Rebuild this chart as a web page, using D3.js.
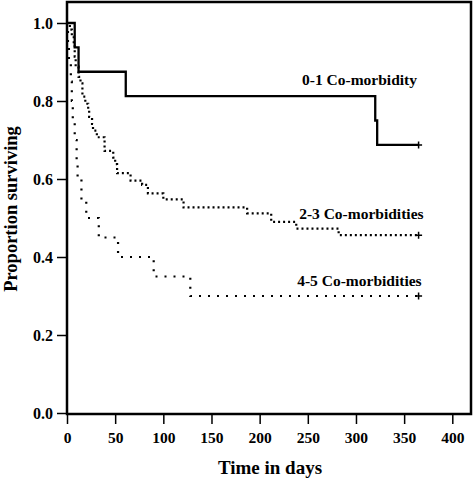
<!DOCTYPE html>
<html>
<head>
<meta charset="utf-8">
<script src="https://cdn.jsdelivr.net/npm/d3@7"></script>
<style>
  html, body { margin: 0; padding: 0; background: #fff; }
  svg { display: block; }
  text { font-family: "Liberation Serif", "Times New Roman", serif; font-weight: bold; fill: #000; }
</style>
</head>
<body>
<div id="chart"></div>
<script>
// ---- data ----
const xTicks = [0, 50, 100, 150, 200, 250, 300, 350, 400];
const yTicks = [0.0, 0.2, 0.4, 0.6, 0.8, 1.0];

const groupNames = ["0-1 Co-morbidity", "2-3 Co-morbidities", "4-5 Co-morbidities"];

const times01 = [0, 8, 12, 61, 320, 322, 365];
const surv01  = [1.0, 0.9375, 0.875, 0.8125, 0.75, 0.6875, 0.6875];

const times23 = [0, 3, 5, 7, 8, 9, 12, 14, 16, 19, 22, 23, 26, 27, 31, 39, 48, 50, 52, 66, 78, 84, 100, 121, 187, 212, 238, 282, 365];
const surv23  = [1.0, 0.983, 0.966, 0.948, 0.914, 0.888, 0.862, 0.845, 0.811, 0.793, 0.776, 0.759, 0.741, 0.724, 0.707, 0.672, 0.655, 0.638, 0.615, 0.596, 0.585, 0.563, 0.548, 0.527, 0.512, 0.490, 0.473, 0.456, 0.456];

const times45 = [0, 1, 2, 4, 5, 6, 8, 10, 11, 15, 20, 33, 53, 90, 128, 365];
const surv45  = [1.0, 0.95, 0.90, 0.85, 0.80, 0.75, 0.70, 0.65, 0.60, 0.55, 0.50, 0.45, 0.40, 0.35, 0.30, 0.30];

// label anchor values (day, survival) for group names
const labelDays = [244, 241, 239];
const labelSurv = [0.84, 0.497, 0.326];

// ---- drawing ----
const W = 474, H = 479;
const svg = d3.select("#chart").append("svg").attr("width", W).attr("height", H);

const frame = {left: 67, right: 471, top: 2, bottom: 414};
const x = d3.scaleLinear().domain([0, 400]).range([67, 452.3]);
const y = d3.scaleLinear().domain([0, 1]).range([413, 23]);

// axes
const yAxis = d3.axisLeft(y).tickValues(yTicks).tickFormat(d3.format(".1f")).tickSize(10).tickPadding(4).tickSizeOuter(0);
const gy = svg.append("g").attr("transform", `translate(${frame.left},0)`).call(yAxis);
gy.select(".domain").remove();
gy.selectAll("line").attr("stroke", "#000").attr("stroke-width", 1.5);
gy.selectAll("text").style("font-size", "16px").attr("dy", "0.35em");

const xAxis = d3.axisBottom(x).tickValues(xTicks).tickFormat(d3.format("d")).tickSize(10).tickPadding(8).tickSizeOuter(0);
const gx = svg.append("g").attr("transform", `translate(0,${frame.bottom})`).call(xAxis);
gx.select(".domain").remove();
gx.selectAll("line").attr("stroke", "#000").attr("stroke-width", 1.5);
gx.selectAll("text").style("font-size", "15.5px");

// frame
svg.append("rect")
  .attr("x", frame.left).attr("y", frame.top)
  .attr("width", frame.right - frame.left).attr("height", frame.bottom - frame.top)
  .attr("fill", "none").attr("stroke", "#000").attr("stroke-width", 2.5);

// curves
const line = d3.line().x(d => x(d[0])).y(d => y(d[1])).curve(d3.curveStepAfter);
const series = [
  {t: times01, s: surv01, dash: null, width: 2.3},
  {t: times23, s: surv23, dash: "2,3", width: 2.2},
  {t: times45, s: surv45, dash: "2,7", width: 2.2}
];
series.forEach((sr, i) => {
  const pts = sr.t.map((t, k) => [t, sr.s[k]]);
  const p = svg.append("path").datum(pts)
    .attr("d", line).attr("fill", "none").attr("stroke", "#000")
    .attr("stroke-width", sr.width);
  if (sr.dash) p.attr("stroke-dasharray", sr.dash);
  // censor mark at end
  const last = pts[pts.length - 1];
  const cx = x(last[0]), cy = y(last[1]);
  svg.append("path")
    .attr("d", `M${cx - 3.5},${cy}H${cx + 3.5}M${cx},${cy - 3.5}V${cy + 3.5}`)
    .attr("stroke", "#000").attr("stroke-width", 1.5);
  // group label
  svg.append("text")
    .attr("x", x(labelDays[i])).attr("y", y(labelSurv[i]))
    .style("font-size", "15.5px")
    .text(groupNames[i]);
});

// axis titles
svg.append("text")
  .attr("x", 270).attr("y", 474)
  .attr("text-anchor", "middle")
  .style("font-size", "19px")
  .text("Time in days");

svg.append("text")
  .attr("transform", "translate(17,209) rotate(-90)")
  .attr("text-anchor", "middle")
  .style("font-size", "18.5px")
  .text("Proportion surviving");
</script>
</body>
</html>
